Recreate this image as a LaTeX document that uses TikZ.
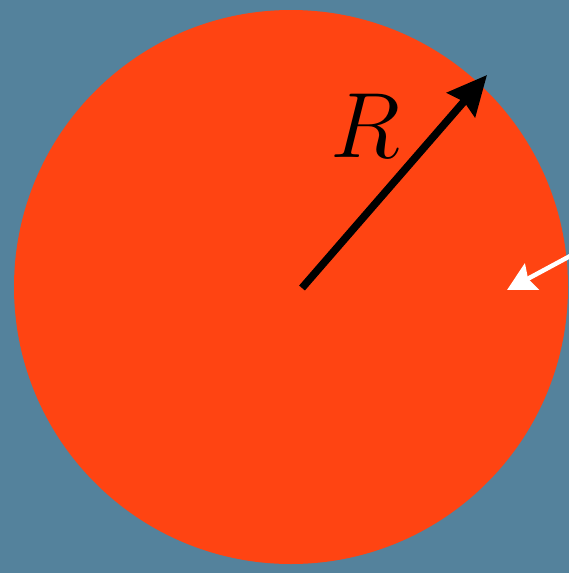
\documentclass[tikz,border=0pt]{standalone}
\usepackage{tikz}
\usetikzlibrary{arrows.meta,positioning}
\definecolor{azulFondo}{RGB}{84,130,156}
\definecolor{rojoDisco}{RGB}{255,68,18}

\begin{document}
\begin{tikzpicture}[
  x=0.025cm, y=-0.025cm,
  disco/.style = {fill=rojoDisco, draw=none},
  radio/.style = {-{Stealth[length=28pt,width=26pt,inset=3pt]},
                  line width=5.4pt, black},
  flujo/.style = {-{Stealth[length=20pt,width=21pt,inset=3pt]},
                  line width=3.2pt, white},
  lbl/.style   = {font=\Huge, scale=2.65, inner sep=0pt},
]
% ── Fondo ────────────────────────────────────────────────────
\fill[azulFondo] (0,0) rectangle (569,573);
\useasboundingbox (0,0) rectangle (569,573);

% ── Disco ────────────────────────────────────────────────────
\coordinate (ctr) at (291,287);
\fill[disco] (ctr) circle[radius=277];

% ── Radio ────────────────────────────────────────────────────
\coordinate (o)   at (302,288);
\coordinate (rim) at (487,75);
\draw[radio] (o) -- (rim);
\node[lbl] (R) at (365,126) {$R$};

% ── Flecha blanca ────────────────────────────────────────────
\coordinate (ext) at (585,248);
\coordinate (pto) at (507,290);
\draw[flujo] (ext) -- (pto);

\end{tikzpicture}
\end{document}
